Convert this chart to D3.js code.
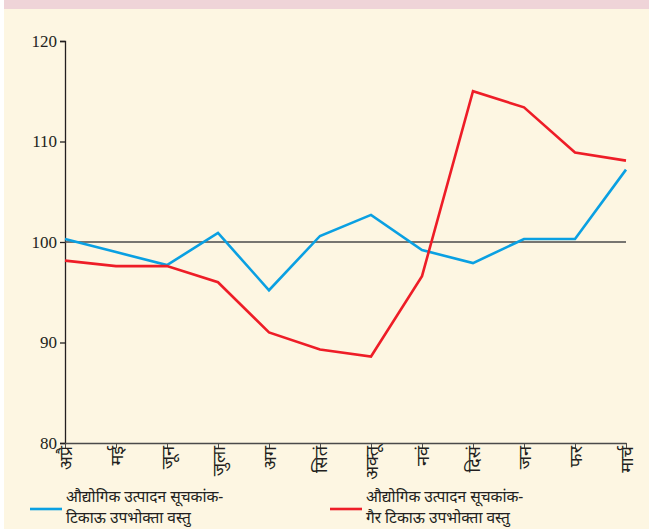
<!DOCTYPE html>
<html>
<head>
<meta charset="utf-8">
<script src="https://cdn.jsdelivr.net/npm/d3@7"></script>
<style>
  body { margin: 0; background: #fff; }
  #chart text { fill: #231f20; }
</style>
</head>
<body>
<div id="chart"></div>
<script>
// Months (Hindi abbreviations)
const months = ['अप्रै', 'मई', 'जून', 'जुला', 'अग', 'सितं', 'अक्तू', 'नवं', 'दिसं', 'जन', 'फर', 'मार्च'];
// Index of Industrial Production - consumer durables
const durables = [100.3, 99.0, 97.7, 100.9, 95.2, 100.6, 102.7, 99.2, 97.9, 100.3, 100.3, 107.2];
// Index of Industrial Production - consumer non-durables
const nonDurables = [98.15, 97.6, 97.6, 96.0, 91.0, 89.3, 88.6, 96.6, 115.0, 113.4, 108.9, 108.1];
const yTicks = [80, 90, 100, 110, 120];
const legendLabels = [
    ['औद्योगिक उत्पादन सूचकांक-', 'टिकाऊ उपभोक्ता वस्तु'],
    ['औद्योगिक उत्पादन सूचकांक-', 'गैर टिकाऊ उपभोक्ता वस्तु']
];

const width = 649, height = 529;
const margin = { top: 41, right: 23, bottom: 86, left: 65 };
const colors = ['#0aa0e2', '#ee1d27'];

const svg = d3.select('#chart').append('svg')
    .attr('width', width)
    .attr('height', height)
    .style('display', 'block');

// Background + top band
svg.append('rect').attr('x', 4).attr('y', 0).attr('width', width - 4).attr('height', height).attr('fill', '#fdf6e2');
svg.append('rect').attr('x', 4).attr('y', 0).attr('width', width - 4).attr('height', 9).attr('fill', '#efd4d8');

const x = d3.scalePoint()
    .domain(months)
    .range([margin.left, width - margin.right]);

const y = d3.scaleLinear()
    .domain([80, 120])
    .range([height - margin.bottom, margin.top]);

// Y axis
const yAxis = svg.append('g')
    .attr('transform', `translate(${margin.left},0)`)
    .call(d3.axisLeft(y).tickValues(yTicks).tickSize(5).tickPadding(3).tickFormat(d3.format('d')));
yAxis.select('.domain').attr('stroke', '#231f20').attr('stroke-width', 1.3);
yAxis.selectAll('.tick line').attr('stroke', '#231f20').attr('stroke-width', 1.3);
yAxis.selectAll('.tick text')
    .style('font-family', '"Liberation Serif", serif')
    .style('font-size', '17px')
    .attr('fill', '#231f20');

// X axis
const xAxis = svg.append('g')
    .attr('transform', `translate(0,${y(80)})`)
    .call(d3.axisBottom(x).tickSize(5).tickSizeOuter(0).tickPadding(4));
xAxis.select('.domain').attr('stroke', '#4a4a4a').attr('stroke-width', 1.5);
xAxis.selectAll('.tick line').attr('stroke', '#4a4a4a').attr('stroke-width', 1);
xAxis.selectAll('.tick text')
    .style('font-family', '"Noto Sans", sans-serif')
    .style('font-size', '18px')
    .attr('fill', '#231f20')
    .attr('text-anchor', 'end')
    .attr('dy', '0.35em')
    .attr('transform', 'translate(0,3) rotate(-90)')
    .attr('x', 0)
    .attr('y', 0);

// Reference line at 100
svg.append('line')
    .attr('x1', x.range()[0]).attr('x2', x.range()[1])
    .attr('y1', y(100)).attr('y2', y(100))
    .attr('stroke', '#4a4a4a')
    .attr('stroke-width', 1.5);

// Series lines
const line = d3.line()
    .x((d, i) => x(months[i]))
    .y(d => y(d));

[durables, nonDurables].forEach((series, i) => {
    svg.append('path')
        .datum(series)
        .attr('fill', 'none')
        .attr('stroke', colors[i])
        .attr('stroke-width', 2.6)
        .attr('stroke-linejoin', 'miter')
        .attr('d', line);
});

// Legend
const legendX = [30, 330];
legendLabels.forEach((lines, i) => {
    const g = svg.append('g').attr('transform', `translate(${legendX[i]},0)`);
    g.append('line')
        .attr('x1', 0).attr('x2', 32)
        .attr('y1', 509).attr('y2', 509)
        .attr('stroke', colors[i])
        .attr('stroke-width', 2.6);
    lines.forEach((t, j) => {
        g.append('text')
            .attr('x', 36)
            .attr('y', 502 + j * 21)
            .style('font-family', '"Noto Sans", sans-serif')
            .style('font-size', '15.5px')
            .attr('fill', '#231f20')
            .text(t);
    });
});
</script>
</body>
</html>
